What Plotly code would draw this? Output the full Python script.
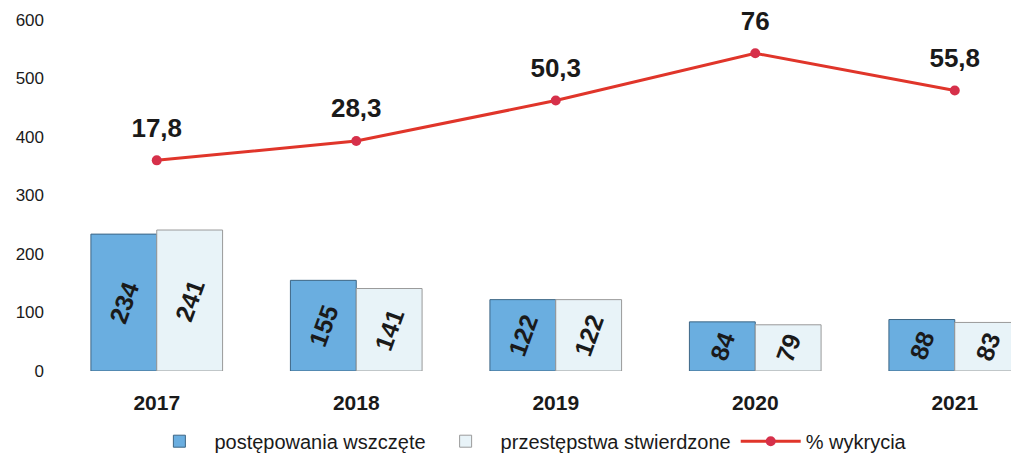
import plotly.graph_objects as go

years = ['2017', '2018', '2019', '2020', '2021']
wszczete = [234, 155, 122, 84, 88]
stwierdzone = [241, 141, 122, 79, 83]
wykrycia = [17.8, 28.3, 50.3, 76, 55.8]

names = ['postępowania wszczęte', 'przestępstwa stwierdzone', '% wykrycia']

font = 'Liberation Sans, Arial, sans-serif'

fig = go.Figure()

# bars: value labels rotated inside the bars
fig.add_trace(go.Bar(
    x=years, y=wszczete, name=names[0],
    marker=dict(color='#6aaee0', line=dict(color='#3d6685', width=1)),
    text=[str(v) for v in wszczete], textposition='inside',
    insidetextanchor='middle', textangle=-70,
    textfont=dict(size=25, color='#1a1a1a', family=font, weight='bold'),
))
fig.add_trace(go.Bar(
    x=years, y=stwierdzone, name=names[1],
    marker=dict(color='#e8f3f8', line=dict(color='#9a9a9a', width=1)),
    text=[str(v) for v in stwierdzone], textposition='inside',
    insidetextanchor='middle', textangle=-70,
    textfont=dict(size=25, color='#1a1a1a', family=font, weight='bold'),
))

# detection rate on a hidden second axis
fig.add_trace(go.Scatter(
    x=years, y=wykrycia, name=names[2], yaxis='y2',
    mode='lines+markers',
    line=dict(color='#e0352a', width=3),
    marker=dict(color='#d6304a', size=10),
))
# labels: a transparent larger marker lifts the text a bit higher
fig.add_trace(go.Scatter(
    x=years, y=wykrycia, yaxis='y2', mode='markers+text',
    marker=dict(size=26, color='rgba(0,0,0,0)'),
    text=[str(v).replace('.', ',') for v in wykrycia],
    textposition='top center', cliponaxis=False,
    textfont=dict(size=26, color='#1a1a1a', family=font, weight='bold'),
    showlegend=False, hoverinfo='skip',
))

# page body adds an 8px offset, so margins are reduced by 8
fig.update_layout(
    width=1019, height=456,
    margin=dict(l=49, r=8, t=12, b=93),
    paper_bgcolor='white', plot_bgcolor='white',
    font=dict(family=font, color='#1a1a1a'),
    barmode='group', bargap=0.34, bargroupgap=0,
    uniformtext=dict(minsize=25, mode='show'),
    xaxis=dict(
        type='category', range=[-0.5, 4.322], automargin=False,
        showline=False, showgrid=False, ticks='',
        tickfont=dict(size=21, weight='bold', color='#1a1a1a'),
        ticklabelstandoff=17,
    ),
    yaxis=dict(
        range=[0, 600], dtick=100, showgrid=False, zeroline=False,
        automargin=False,
        tickfont=dict(size=17, color='#1a1a1a'), ticklabelstandoff=12,
    ),
    yaxis2=dict(
        overlaying='y', range=[-96.7, 94.1], visible=False,
    ),
    legend=dict(
        orientation='h', x=0.49, xanchor='center',
        yref='container', y=0.05, yanchor='middle',
        font=dict(size=20), traceorder='normal', itemwidth=60,
    ),
    showlegend=True,
)

fig.write_html('out.html')
